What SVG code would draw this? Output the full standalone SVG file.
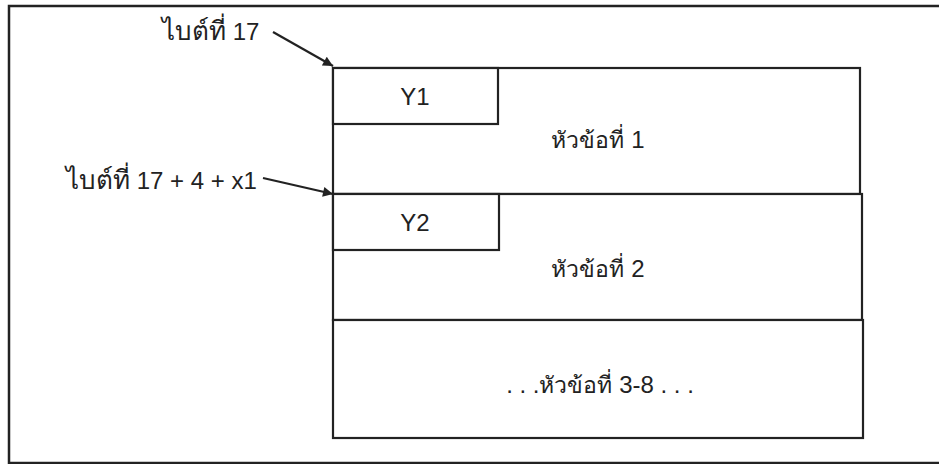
<svg xmlns="http://www.w3.org/2000/svg" width="939" height="464" viewBox="0 0 939 464">
<style>
.frame{fill:none;stroke:#222;stroke-width:2.5}
.box{fill:#fff;stroke:#222;stroke-width:2.2}
.t{font-family:"Liberation Sans","Noto Sans","DejaVu Sans",Arial,sans-serif;font-size:24px;fill:#222}
.th{font-size:23px}
.thl{font-size:26px}
.c{text-anchor:middle}
.conn{stroke:#222;stroke-width:2.2;fill:none}
</style>
<defs>
<marker id="ah" viewBox="0 0 10 10" refX="10" refY="5" markerWidth="16" markerHeight="10" markerUnits="userSpaceOnUse" orient="auto">
<path d="M0,0 L10,5 L0,10 z" fill="#222"/>
</marker>
</defs>
<rect class="frame" x="9" y="6" width="935" height="457"/>
<g id="section1">
<rect class="box" x="333" y="68" width="527" height="126"/>
<text class="t c" x="598" y="148"><tspan class="th">หัวข้อที่</tspan> 1</text>
</g>
<g id="y1">
<rect class="box" x="333" y="68" width="165" height="56"/>
<text class="t c" x="415" y="105">Y1</text>
</g>
<g id="section2">
<rect class="box" x="333" y="194" width="529" height="126"/>
<text class="t c" x="598" y="277"><tspan class="th">หัวข้อที่</tspan> 2</text>
</g>
<g id="y2">
<rect class="box" x="333" y="194" width="166" height="56"/>
<text class="t c" x="415" y="231">Y2</text>
</g>
<g id="section3">
<rect class="box" x="333" y="320" width="530" height="118"/>
<text class="t c" x="600" y="393">. . .<tspan class="th">หัวข้อที่</tspan> 3-8 . . .</text>
</g>
<g id="label1">
<text class="t" x="162" y="40"><tspan class="thl">ไบต์ที่</tspan> 17</text>
</g>
<g id="label2">
<text class="t" x="66" y="189"><tspan class="thl">ไบต์ที่</tspan> 17 + 4 + x1</text>
</g>
<g id="connectors">
<line class="conn" x1="273" y1="32" x2="333" y2="66" marker-end="url(#ah)"/>
<line class="conn" x1="263" y1="178" x2="333" y2="194" marker-end="url(#ah)"/>
</g>
</svg>
